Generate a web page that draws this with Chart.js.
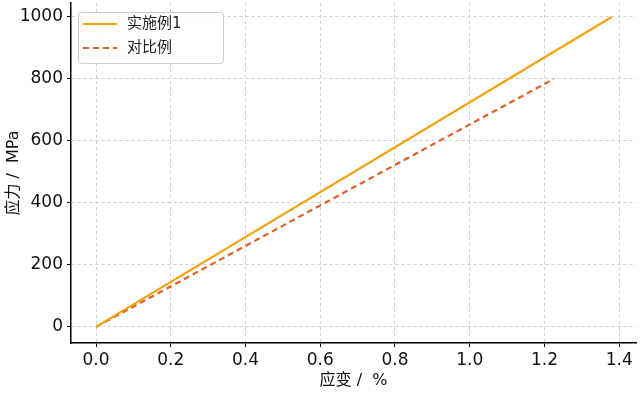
<!DOCTYPE html>
<html>
<head>
<meta charset="utf-8">
<script src="https://cdn.jsdelivr.net/npm/chart.js@4.4.0/dist/chart.umd.min.js"></script>
<style>
  html, body { margin: 0; padding: 0; background: #fff; }
  #wrap { width: 640px; height: 394px; }
</style>
</head>
<body>
<div id="wrap"><canvas id="myChart" width="640" height="394"></canvas></div>
<script>
// donnees
const strainEx = [0, 1.38];
const stressEx = [0, 1000];
const strainRef = [0, 1.225];
const stressRef = [0, 800];
const labels = ['实施例1', '对比例'];
const xTicks = [0, 0.2, 0.4, 0.6, 0.8, 1.0, 1.2, 1.4];
const yTicks = [0, 200, 400, 600, 800, 1000];

const FONT = "'DejaVu Sans', 'Noto Sans CJK SC', sans-serif";

function pts(xs, ys) {
  return xs.map((x, i) => ({ x: x, y: ys[i] }));
}

// legende dessinee dans la zone du graphique, avec un cadre arrondi
const boxLegend = {
  id: 'boxLegend',
  afterDraw(chart) {
    const ctx = chart.ctx;
    const x0 = 78, y0 = 12, w = 145, h = 51;
    ctx.save();
    ctx.fillStyle = 'rgba(255,255,255,0.85)';
    ctx.strokeStyle = '#cccccc';
    ctx.lineWidth = 1;
    ctx.beginPath();
    ctx.roundRect(x0 + 0.5, y0 + 0.5, w, h, 3);
    ctx.fill();
    ctx.stroke();
    chart.data.datasets.forEach((ds, i) => {
      const y = y0 + 12 + i * 24;
      ctx.strokeStyle = ds.borderColor;
      ctx.lineWidth = ds.borderWidth;
      ctx.setLineDash(ds.borderDash || []);
      ctx.beginPath();
      ctx.moveTo(83, y);
      ctx.lineTo(117, y);
      ctx.stroke();
      ctx.setLineDash([]);
      ctx.fillStyle = '#222';
      ctx.font = '15px ' + FONT;
      ctx.textBaseline = 'middle';
      ctx.fillText(ds.label, 127, y);
    });
    ctx.restore();
  }
};

const ctx = document.getElementById('myChart').getContext('2d');
const myChart = new Chart(ctx, {
  type: 'line',
  data: {
    datasets: [{
      label: labels[0],
      data: pts(strainEx, stressEx),
      borderColor: '#f0a30a',
      borderWidth: 2.2,
      pointRadius: 0,
      tension: 0
    }, {
      label: labels[1],
      data: pts(strainRef, stressRef),
      borderColor: '#e0602a',
      borderWidth: 2.2,
      borderDash: [6, 4],
      pointRadius: 0,
      tension: 0
    }]
  },
  options: {
    responsive: false,
    animation: false,
    layout: { padding: { top: 3, right: 4, left: 0, bottom: 0 } },
    plugins: {
      legend: { display: false },
      tooltip: { enabled: false }
    },
    scales: {
      x: {
        type: 'linear',
        min: -0.067,
        max: 1.445,
        afterBuildTicks: s => { s.ticks = xTicks.map(v => ({ value: v })); },
        afterFit: s => { s.height = 51; s.paddingLeft = 0; s.paddingRight = 0; },
        ticks: {
          color: '#111',
          font: { size: 17, family: FONT },
          padding: 3,
          maxRotation: 0,
          callback: v => v.toFixed(1)
        },
        grid: { color: '#cfcfcf', tickColor: '#000', tickLength: 4, tickBorderDash: [] },
        border: { display: true, color: '#000', width: 1.5, dash: [3, 3] },
        title: {
          display: true,
          text: '应变 /  %',
          color: '#111',
          font: { size: 16, family: FONT },
          padding: { top: 2, bottom: 4 }
        }
      },
      y: {
        min: -52,
        max: 1045,
        afterBuildTicks: s => { s.ticks = yTicks.map(v => ({ value: v })); },
        afterFit: s => { s.width = 71; s.paddingTop = 0; s.paddingBottom = 0; },
        ticks: {
          color: '#111',
          font: { size: 17, family: FONT },
          padding: 4,
          callback: v => String(v)
        },
        grid: { color: '#cfcfcf', tickColor: '#000', tickLength: 4, tickBorderDash: [] },
        border: { display: true, color: '#000', width: 1.5, dash: [3, 3] },
        title: {
          display: true,
          text: '应力 /  MPa',
          color: '#111',
          font: { size: 16, family: FONT },
          padding: { top: 4, bottom: 0 }
        }
      }
    }
  },
  plugins: [boxLegend]
});
</script>
</body>
</html>
